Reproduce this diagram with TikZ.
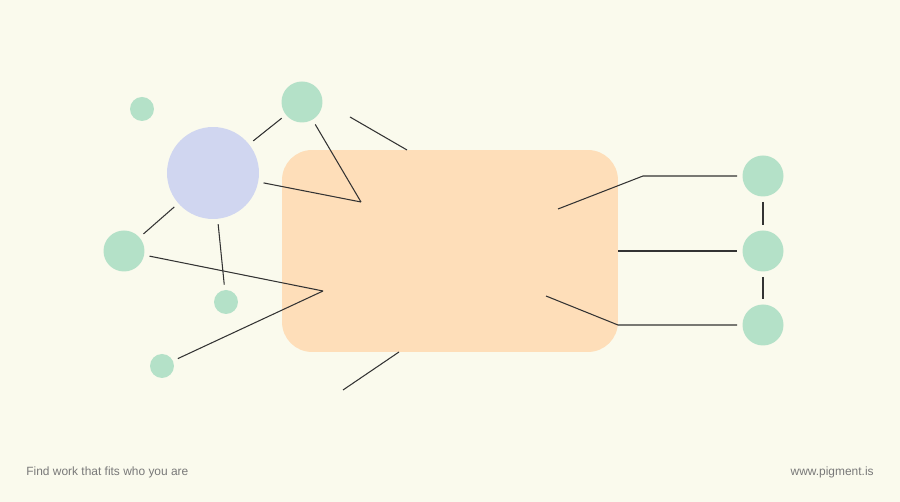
\documentclass[tikz,border=0pt]{standalone}
\usepackage{fontspec}
\setmainfont{Liberation Sans}
\usetikzlibrary{positioning}

\definecolor{paper}{RGB}{250,250,237}
\definecolor{peach}{RGB}{254,222,185}
\definecolor{lilac}{RGB}{208,214,240}
\definecolor{mint}{RGB}{180,225,200}
\definecolor{ink}{RGB}{51,51,51}
\definecolor{greytext}{RGB}{120,120,120}

\begin{document}
\begin{tikzpicture}[
        x=0.02cm, y=-0.02cm,
        dot/.style={circle, fill=mint, inner sep=0pt, outer sep=0.11cm},
        bigdot/.style={dot, minimum size=0.82cm},
        smalldot/.style={dot, minimum size=0.48cm},
        link/.style={draw=ink, line width=0.6pt},
        caption/.style={font=\fontsize{6.8}{8}\selectfont, text=greytext, inner sep=0pt}
      ]

      % Background
      \fill[paper] (0,0) rectangle (900,502);
      \useasboundingbox (0,0) rectangle (900,502);

      % Central box
      \node[rectangle, fill=peach, rounded corners=0.6cm, minimum width=6.72cm,
            minimum height=4.04cm, inner sep=0pt] (box) at (450,251) {};

      % Left cluster
      \node[circle, fill=lilac, inner sep=0pt, outer sep=0.11cm, minimum size=1.84cm] (hub) at (213,173) {};
      \node[bigdot] (top) at (302,102) {};
      \node[bigdot] (left) at (124,251) {};
      \node[smalldot] (corner) at (142,109) {};  % not linked
      \node[smalldot] (mid) at (226,302) {};
      \node[smalldot] (low) at (162,366) {};

      % Right column
      \node[bigdot] (r1) at (763,176) {};
      \node[bigdot] (r2) at (763,251) {};
      \node[bigdot] (r3) at (763,325) {};

      % Free ends
      \coordinate (p1) at (361,202);
      \coordinate (p2) at (323,291);
      \coordinate (p3) at (558,209);
      \coordinate (p4) at (643,176);
      \coordinate (p5) at (546,296);
      \coordinate (p6) at (618,325);
      \coordinate (s1) at (350,117);
      \coordinate (s2) at (407,150);
      \coordinate (s3) at (343,390);
      \coordinate (s4) at (399,352);

      % Connections
      \draw[link] (hub) -- (top);
      \draw[link] (hub) -- (left);
      \draw[link] (hub) -- (mid);
      \draw[link] (top) -- (p1);
      \draw[link] (hub) -- (p1);
      \draw[link] (left) -- (p2);
      \draw[link] (low) -- (p2);
      \draw[link] (s1) -- (s2);
      \draw[link] (s3) -- (s4);
      \draw[link] (p3) -- (p4) -- (r1);
      \draw[link] (box.east) -- (r2);
      \draw[link] (p5) -- (p6) -- (r3);
      \draw[link] (r1) -- (r2);
      \draw[link] (r2) -- (r3);

      % Footer
      \node[caption, anchor=west] (tagline) at (26,472) {Find work that fits who you are};
      \node[caption, anchor=east] (site) at (874,472) {www.pigment.is};

\end{tikzpicture}
\end{document}
